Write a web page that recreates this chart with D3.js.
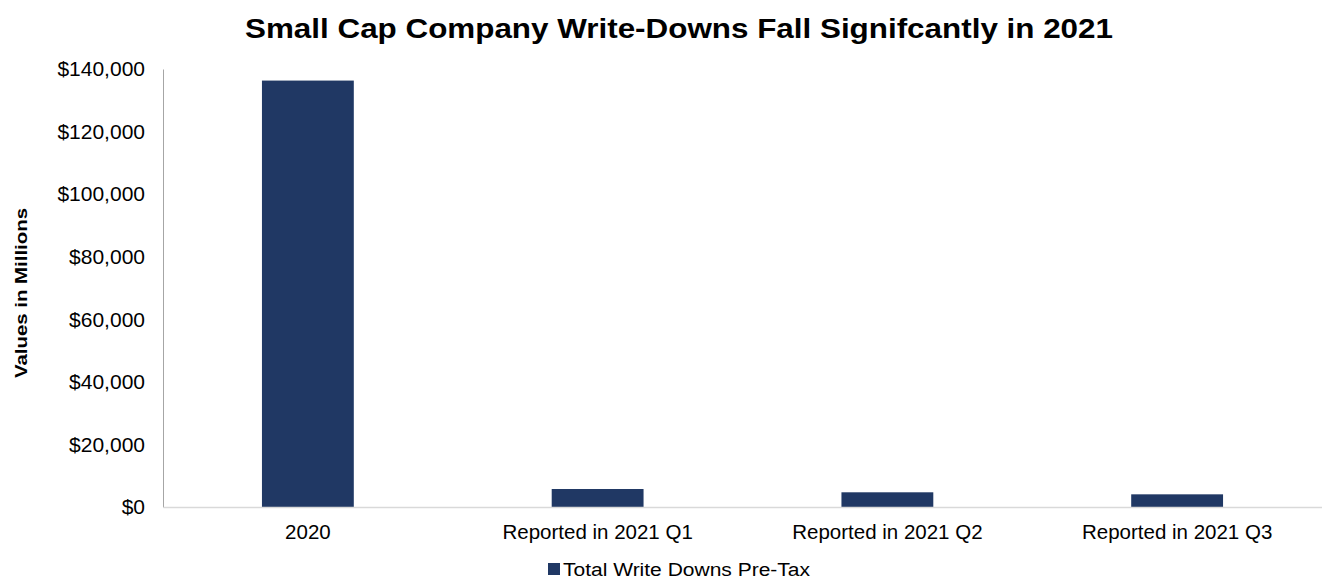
<!DOCTYPE html>
<html>
<head>
<meta charset="utf-8">
<script src="https://cdn.jsdelivr.net/npm/d3@7"></script>
<style>
  html, body { margin: 0; padding: 0; background: #fff; }
  svg { display: block; font-family: "Liberation Sans", Arial, sans-serif; }
</style>
</head>
<body>
<svg id="chart" width="1322" height="579"></svg>
<script>
// Write-downs (USD millions) by reporting period
const categories = ["2020", "Reported in 2021 Q1", "Reported in 2021 Q2", "Reported in 2021 Q3"];
const writeDowns = [136300, 5750, 4700, 4050];
const yTicks = [0, 20000, 40000, 60000, 80000, 100000, 120000, 140000];
const seriesName = "Total Write Downs Pre-Tax";
const chartTitle = "Small Cap Company Write-Downs Fall Signifcantly in 2021";
const yTitle = "Values in Millions";

const svg = d3.select("#chart");
const W = 1322, H = 579;
const m = { top: 69, right: 0, bottom: 72, left: 163 };
const plotW = W - m.left - m.right;
const plotH = H - m.top - m.bottom;
const barColor = "#203864";
const font = "Liberation Sans, Arial, sans-serif";

const x = d3.scaleBand().domain(categories).range([0, plotW]).paddingInner(0.683).paddingOuter(0.3415);
const y = d3.scaleLinear().domain([0, 140000]).range([plotH, 0]);

const g = svg.append("g").attr("transform", `translate(${m.left},${m.top})`);

// Title
svg.append("text")
  .attr("x", 679).attr("y", 38)
  .attr("text-anchor", "middle")
  .attr("font-size", 28).attr("font-weight", "bold").attr("fill", "#000")
  .attr("textLength", 868).attr("lengthAdjust", "spacingAndGlyphs")
  .text(chartTitle);

// Y axis title
svg.append("text")
  .attr("transform", "translate(27,293) rotate(-90)")
  .attr("text-anchor", "middle")
  .attr("font-size", 17).attr("font-weight", "bold").attr("fill", "#000")
  .attr("textLength", 170).attr("lengthAdjust", "spacingAndGlyphs")
  .text(yTitle);

// Bars
g.selectAll("rect.bar").data(categories).enter().append("rect")
  .attr("class", "bar")
  .attr("x", d => x(d))
  .attr("width", x.bandwidth())
  .attr("y", (d, i) => y(writeDowns[i]))
  .attr("height", (d, i) => plotH - y(writeDowns[i]))
  .attr("fill", barColor);

// Y axis
const yAxis = g.append("g")
  .call(d3.axisLeft(y).tickValues(yTicks).tickSize(0).tickPadding(18)
    .tickFormat(d => "$" + d3.format(",")(d)));
yAxis.select(".domain").attr("stroke", "#a6a6a6").attr("stroke-width", 1);
yAxis.selectAll("text").attr("font-size", 21).attr("fill", "#000").attr("font-family", font);

// X axis
const xAxis = g.append("g")
  .attr("transform", `translate(0,${plotH})`)
  .call(d3.axisBottom(x).tickSize(0).tickPadding(17));
xAxis.select(".domain").attr("stroke", "#d9d9d9").attr("stroke-width", 1.5);
xAxis.selectAll("text").attr("font-size", 20.5).attr("fill", "#000").attr("font-family", font);

// Legend
const legend = svg.append("g").attr("transform", "translate(548,576)");
legend.append("rect").attr("x", 0).attr("y", -13).attr("width", 12).attr("height", 12).attr("fill", barColor);
legend.append("text").attr("x", 15).attr("y", 0)
  .attr("font-size", 18).attr("fill", "#000")
  .attr("textLength", 247).attr("lengthAdjust", "spacingAndGlyphs")
  .text(seriesName);
</script>
</body>
</html>
